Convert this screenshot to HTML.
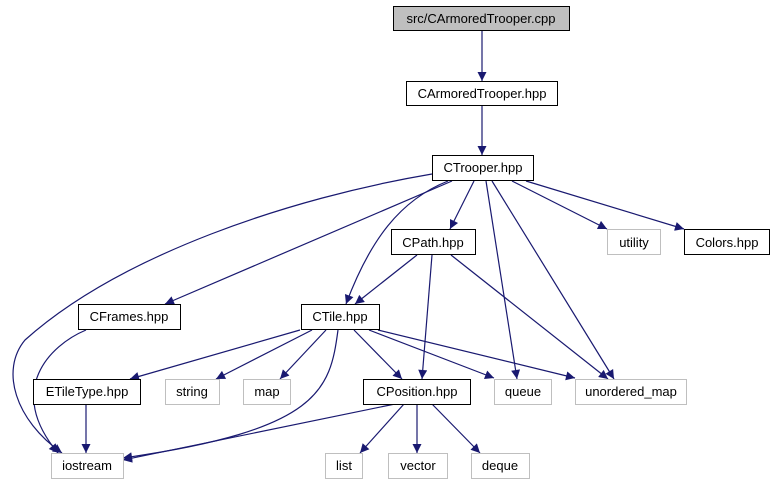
<!DOCTYPE html>
<html><head><style>
html,body{margin:0;padding:0;background:#fff;width:775px;height:485px;overflow:hidden}
text{font-family:"Liberation Sans",sans-serif;font-size:13px;text-anchor:middle}
</style></head><body>
<svg width="775" height="485" viewBox="0 0 775 485" xmlns="http://www.w3.org/2000/svg">
<defs><marker id="a" viewBox="0 0 10 10" refX="10" refY="5" markerWidth="11" markerHeight="9" markerUnits="userSpaceOnUse" orient="auto"><path d="M0,0L10,5L0,10z" fill="#191970"/></marker></defs>
<g fill="none" stroke="#191970" stroke-width="1.2" marker-end="url(#a)">
<path d="M482,31L482,81"/>
<path d="M482,106L482,155"/>
<path d="M432,174C290,198 120,255 25,340C0,370 15,420 62,453"/>
<path d="M452,181L165,304"/>
<path d="M448,181C400,200 370,240 346,304"/>
<path d="M474,181L450,229"/>
<path d="M486,181L517,379"/>
<path d="M492,181L614,379"/>
<path d="M512,181L607,229"/>
<path d="M526,181L684,229"/>
<path d="M417,255L355,304"/>
<path d="M432,255L422,379"/>
<path d="M451,255L608,379"/>
<path d="M86,330C50,345 5,390 58,453"/>
<path d="M300,330L130,379"/>
<path d="M312,330L216,379"/>
<path d="M326,330L280,379"/>
<path d="M338,330C330,390 320,430 123,458"/>
<path d="M354,330L402,379"/>
<path d="M369,330L494,378"/>
<path d="M378,330L575,378"/>
<path d="M86,404L86,453"/>
<path d="M395,404L123,460"/>
<path d="M404,404L360,453"/>
<path d="M417,404L417,453"/>
<path d="M432,404L480,453"/>
</g>
<g stroke-width="1">
<rect x="393.5" y="6.5" width="176" height="24" fill="#bfbfbf" stroke="#000"/>
<rect x="406.5" y="81.5" width="151" height="24" fill="#fff" stroke="#000"/>
<rect x="432.5" y="155.5" width="101" height="25" fill="#fff" stroke="#000"/>
<rect x="391.5" y="229.5" width="84" height="25" fill="#fff" stroke="#000"/>
<rect x="607.5" y="229.5" width="53" height="25" fill="#fff" stroke="#bfbfbf"/>
<rect x="684.5" y="229.5" width="85" height="25" fill="#fff" stroke="#000"/>
<rect x="78.5" y="304.5" width="102" height="25" fill="#fff" stroke="#000"/>
<rect x="301.5" y="304.5" width="78" height="25" fill="#fff" stroke="#000"/>
<rect x="33.5" y="379.5" width="107" height="25" fill="#fff" stroke="#000"/>
<rect x="165.5" y="379.5" width="54" height="25" fill="#fff" stroke="#bfbfbf"/>
<rect x="243.5" y="379.5" width="47" height="25" fill="#fff" stroke="#bfbfbf"/>
<rect x="363.5" y="379.5" width="107" height="25" fill="#fff" stroke="#000"/>
<rect x="494.5" y="379.5" width="57" height="25" fill="#fff" stroke="#bfbfbf"/>
<rect x="575.5" y="379.5" width="111" height="25" fill="#fff" stroke="#bfbfbf"/>
<rect x="51.5" y="453.5" width="72" height="25" fill="#fff" stroke="#bfbfbf"/>
<rect x="325.5" y="453.5" width="37" height="25" fill="#fff" stroke="#bfbfbf"/>
<rect x="388.5" y="453.5" width="59" height="25" fill="#fff" stroke="#bfbfbf"/>
<rect x="471.5" y="453.5" width="58" height="25" fill="#fff" stroke="#bfbfbf"/>
</g>
<g fill="#000">
<text x="481" y="23">src/CArmoredTrooper.cpp</text>
<text x="482" y="98">CArmoredTrooper.hpp</text>
<text x="483" y="172">CTrooper.hpp</text>
<text x="433" y="247">CPath.hpp</text>
<text x="634" y="247">utility</text>
<text x="727" y="247">Colors.hpp</text>
<text x="129" y="321">CFrames.hpp</text>
<text x="340" y="321">CTile.hpp</text>
<text x="87" y="396">ETileType.hpp</text>
<text x="192" y="396">string</text>
<text x="267" y="396">map</text>
<text x="417" y="396">CPosition.hpp</text>
<text x="523" y="396">queue</text>
<text x="631" y="396">unordered_map</text>
<text x="87" y="470">iostream</text>
<text x="344" y="470">list</text>
<text x="418" y="470">vector</text>
<text x="500" y="470">deque</text>
</g>
</svg>
</body></html>
